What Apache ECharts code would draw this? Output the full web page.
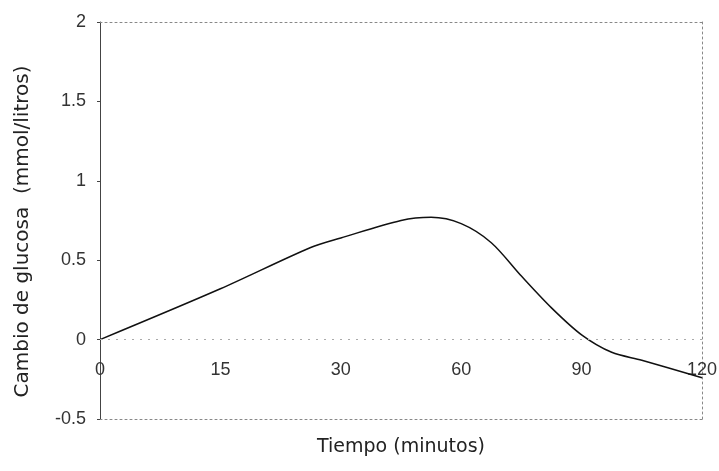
<!DOCTYPE html>
<html>
<head>
<meta charset="utf-8">
<script src="https://cdn.jsdelivr.net/npm/echarts@6/dist/echarts.min.js"></script>
<style>
  html, body { margin: 0; padding: 0; background: #fff; }
  #chart { width: 719px; height: 471px; }
</style>
</head>
<body>
<div id="chart"></div>
<script>
// etiquetas del eje x (espaciado uniforme, como en el original)
const tickLabels = ['0', '15', '30', '60', '90', '120'];
// posicion de cada punto sobre el eje (indice de etiqueta)
const xPos = [0, 1, 1.75, 2, 2.5, 2.75, 3, 3.25, 3.5, 3.75, 4, 4.25, 4.5, 5];
// cambio de glucosa (mmol/litros)
const glucosa = [0, 0.32, 0.58, 0.64, 0.75, 0.77, 0.73, 0.61, 0.40, 0.20, 0.03, -0.08, -0.13, -0.24];

const chart = echarts.init(document.getElementById('chart'), null, { renderer: 'canvas' });

let points = [];
for (let i = 0; i < xPos.length; i++) {
  points.push([xPos[i], glucosa[i]]);
}

const numFont = { fontFamily: 'Liberation Sans', fontSize: 18, color: '#333' };
const dotted = { color: '#888', width: 1, type: [2, 3] };

chart.setOption({
  animation: false,
  backgroundColor: '#fff',
  grid: { left: 100, right: 17, top: 22, bottom: 52, outerBoundsMode: 'none' },
  xAxis: [
    {
      // borde inferior + etiquetas (se suben hasta quedar bajo la linea del cero)
      type: 'value',
      min: 0, max: tickLabels.length - 1, interval: 1,
      position: 'bottom',
      axisLine: { onZero: false, lineStyle: dotted },
      axisTick: { show: false },
      splitLine: { show: false },
      axisLabel: Object.assign({ margin: -58, formatter: v => tickLabels[v] }, numFont),
      name: 'Tiempo (minutos)',
      nameLocation: 'middle',
      nameGap: 19,
      nameTextStyle: { fontFamily: 'DejaVu Sans', fontSize: 19, color: '#222' }
    },
    {
      type: 'value',
      min: 0, max: tickLabels.length - 1,
      position: 'top',
      axisLine: { onZero: false, lineStyle: dotted },
      axisTick: { show: false },
      axisLabel: { show: false },
      splitLine: { show: false }
    }
  ],
  yAxis: [
    {
      type: 'value',
      min: -0.5, max: 2, interval: 0.5,
      position: 'left',
      axisLine: { onZero: false, lineStyle: { color: '#444', width: 1 } },
      axisTick: { show: true, length: 3, lineStyle: { color: '#444' } },
      splitLine: { show: false },
      axisLabel: Object.assign({ margin: 14 }, numFont),
      name: 'Cambio de glucosa  (mmol/litros)',
      nameLocation: 'middle',
      nameGap: 67,
      nameTextStyle: { fontFamily: 'DejaVu Sans', fontSize: 20, color: '#222', padding: [0, 0, 0, -22] }
    },
    {
      type: 'value',
      min: -0.5, max: 2,
      position: 'right',
      axisLine: { onZero: false, lineStyle: dotted },
      axisTick: { show: false },
      axisLabel: { show: false },
      splitLine: { show: false }
    }
  ],
  series: [
    {
      type: 'line',
      data: points,
      smooth: 0.3,
      showSymbol: false,
      lineStyle: { color: '#111', width: 1.5 },
      // linea del cero (punteada)
      markLine: {
        silent: true,
        symbol: 'none',
        label: { show: false },
        lineStyle: { color: '#aaa', width: 1, type: [2, 6] },
        data: [{ yAxis: 0 }]
      }
    }
  ]
});
</script>
</body>
</html>
